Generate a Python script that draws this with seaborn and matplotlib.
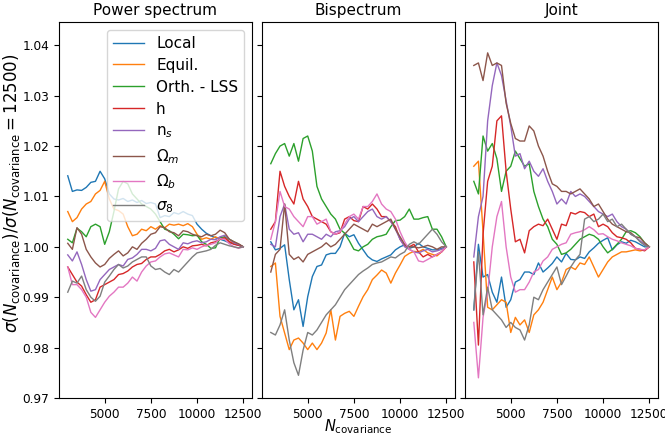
import numpy as np
import pandas as pd
import seaborn as sns
import matplotlib
matplotlib.use("Agg")
import matplotlib.pyplot as plt

# number of simulations used for the covariance
n_cov = [3000, 3250, 3500, 3750, 4000, 4250, 4500, 4750, 5000, 5250,
         5500, 5750, 6000, 6250, 6500, 6750, 7000, 7250, 7500, 7750,
         8000, 8250, 8500, 8750, 9000, 9250, 9500, 9750, 10000, 10250,
         10500, 10750, 11000, 11250, 11500, 11750, 12000, 12250, 12500]

labels = ["Local", "Equil.", "Orth. - LSS", "h", r"n$_s$",
          r"$\Omega_m$", r"$\Omega_b$", r"$\sigma_8$"]
titles = ["Power spectrum", "Bispectrum", "Joint"]

# sigma(N)/sigma(12500) - 1, in units of 1e-3
# --- power spectrum
local_pk = [14.1, 11.0, 11.3, 11.2, 11.8, 12.8, 13.0, 15.0, 13.5, 10.5, 9.5, 9.3, 9.6, 9.0, 9.3, 8.8,
            9.2, 8.6, 8.8, 8.5, 5.8, 6.2, 6.0, 6.8, 6.5, 7.0, 6.5, 6.2, 4.5, 3.5, 2.7, 2.2, 1.8, 1.5,
            1.2, 0.8, 0.6, 0.3, 0.0]
equil_pk = [7.0, 5.0, 5.8, 7.5, 8.5, 9.0, 10.5, 11.2, 13.0, 9.5, 7.5, 7.2, 6.5, 4.0, 2.2, 2.5,
            3.5, 3.2, 4.0, 3.5, 4.2, 3.8, 4.5, 4.3, 4.5, 4.2, 4.6, 4.0, 2.5, 1.5, 1.8, 1.5, 2.0, 1.5,
            1.8, 1.0, 0.8, 0.5, 0.0]
orth_pk = [1.5, 0.8, 3.7, 3.0, 2.0, 4.0, 4.5, 4.0, 0.5, 3.0, 7.0, 11.5, 13.0, 12.5, 10.5, 9.5,
           8.5, 8.0, 7.5, 6.5, 5.0, 3.5, 3.2, 2.5, 1.6, 2.5, 2.4, 2.2, 2.3, 1.0, 0.5, -0.3, -0.2, 1.8,
           2.0, 1.5, 1.0, 0.5, 0.0]
h_pk = [-4.0, -5.5, -7.0, -7.8, -9.5, -11.0, -10.5, -8.0, -7.5, -7.0, -6.5, -5.5, -5.3, -4.8, -4.0,
        -3.5, -3.3, -2.5, -2.0, -2.0, -1.5, -0.8, -0.5, -1.0, -0.6, 0.0, -0.3, 0.2, 0.3, 0.5, 0.2,
        0.8, 1.0, 1.5, 1.8, 1.0, 0.5, 0.3, 0.0]
ns_pk = [-1.6, -2.8, -1.0, -3.5, -6.5, -8.8, -8.5, -6.5, -5.5, -4.5, -4.0, -3.5, -3.8, -2.5, -2.2,
         -1.5, -0.5, -0.5, -0.8, -0.3, 1.2, 1.4, 0.5, 0.0, -0.5, 0.8, 0.6, 1.0, 1.2, 0.8, 1.0, 1.5,
         1.4, 2.0, 2.3, 1.5, 0.8, 0.5, 0.0]
om_pk = [0.7, -0.5, 3.8, 2.5, -0.5, -2.0, -3.2, -4.0, -3.5, -2.3, -1.5, -0.8, -1.8, -1.2, 0.0, -0.5,
         0.7, 1.5, 2.5, 2.8, 4.0, 3.8, 3.0, 2.8, 2.2, 3.2, 3.0, 2.5, 2.2, 2.0, 2.5, 2.2, 2.5, 3.3,
         2.8, 1.5, 1.0, 0.6, 0.0]
ob_pk = [-4.0, -7.5, -7.5, -8.5, -10.0, -13.0, -14.0, -12.5, -11.0, -9.8, -9.0, -8.0, -8.0, -7.2,
         -6.0, -6.8, -5.0, -3.8, -3.0, -2.8, -2.0, -1.4, -1.2, -1.6, -2.0, -0.5, -0.6, -0.2, -0.5,
         0.0, 0.3, 0.5, 0.8, 1.6, 1.5, 0.6, 0.0, -0.3, 0.0]
s8_pk = [-9.0, -6.8, -7.2, -5.8, -8.5, -10.0, -10.8, -9.8, -7.0, -5.8, -4.5, -3.5, -4.2, -3.8, -3.0,
         -2.5, -2.0, -2.0, -3.8, -4.5, -4.3, -5.0, -5.5, -4.5, -5.0, -4.0, -3.0, -2.0, -1.2, -1.0,
         -0.8, -0.5, 0.3, 0.8, 0.5, 0.2, 0.0, -0.2, 0.0]

# --- bispectrum
local_bk = [1.0, -0.6, -0.3, 0.4, -6.5, -12.5, -10.5, -15.8, -9.9, -5.9, -3.9, -3.6, -1.6, -1.3,
            -1.3, 0.0, 2.7, 2.0, 2.4, 0.7, -0.6, -1.9, -2.6, -2.9, -2.4, -2.0, -1.6, -0.6, 0.0, 0.4,
            -0.3, 0.0, 0.7, 0.0, -0.3, -0.6, -0.6, -0.3, 0.0]
equil_bk = [-3.9, -3.2, -13.8, -17.1, -20.4, -18.5, -18.1, -19.1, -20.4, -19.1, -20.4, -19.1, -17.1,
            -12.5, -18.5, -13.8, -13.2, -12.8, -13.8, -11.8, -9.9, -8.5, -6.5, -5.6, -4.6, -5.2, -7.2,
            -5.2, -3.6, -1.9, -1.3, -0.9, -1.0, -0.5, -1.2, -1.5, -1.8, -1.0, 0.0]
orth_bk = [16.5, 18.5, 20.0, 20.5, 18.0, 20.5, 17.0, 21.5, 22.0, 19.0, 12.0, 9.5, 8.0, 6.5, 5.5,
           3.5, 2.7, 1.2, -0.5, -0.8, 0.0, 0.5, 1.5, 2.0, 2.2, 2.5, 4.0, 5.2, 5.3, 6.0, 7.5, 5.5,
           5.5, 5.8, 6.0, 3.5, 3.5, 2.0, 0.0]
h_bk = [3.5, 5.0, 15.0, 12.0, 10.0, 8.5, 13.0, 9.5, 8.0, 6.0, 5.5, 5.0, 4.5, 3.0, 2.5, 2.8, 5.5,
        6.0, 5.2, 5.0, 8.0, 7.5, 8.5, 7.5, 6.0, 6.0, 5.0, 4.0, 1.5, 0.2, 0.0, 0.5, -1.0, -2.0, -1.5,
        -2.0, -1.5, -1.0, 0.0]
ns_bk = [0.5, 0.0, 6.0, 8.5, 3.5, 2.5, 2.8, 1.0, 2.5, 2.5, 2.0, 1.5, 2.5, 2.0, 3.0, 3.2, 4.0, 5.5,
         6.0, 5.0, 6.0, 7.0, 7.5, 6.0, 5.5, 6.0, 5.0, 3.5, 1.5, 0.0, -0.5, -1.0, -1.2, -0.8, -0.5,
         -1.0, -0.8, -0.5, 0.0]
om_bk = [-5.0, -1.5, -0.5, 8.5, -1.5, -2.5, -2.0, -3.0, -1.5, -1.0, -0.5, 0.0, 0.8, 0.0, 0.5, 1.5,
         2.5, 3.5, 4.5, 4.0, 3.5, 3.0, 4.5, 4.0, 4.5, 5.0, 5.5, 3.5, 2.0, 0.5, 0.0, 0.0, -0.2, 0.0,
         0.3, 0.0, -0.5, 0.0, 0.0]
ob_bk = [1.5, 5.0, 11.0, 8.0, 7.5, 6.0, 5.0, 4.0, 6.0, 6.0, 4.5, 5.0, 5.5, 3.0, 2.5, 3.0, 4.5, 6.0,
         6.5, 5.5, 8.0, 8.0, 9.0, 10.5, 8.5, 7.5, 7.0, 5.5, 3.0, 1.0, -0.5, -1.0, -2.8, -3.0, -2.5,
         -2.0, -1.5, -1.0, 0.0]
s8_bk = [-17.0, -17.5, -15.5, -12.5, -18.5, -23.0, -25.5, -20.5, -17.0, -17.5, -16.5, -15.0, -13.5,
         -12.5, -11.5, -10.0, -8.5, -7.5, -6.5, -5.5, -4.8, -4.2, -3.5, -3.2, -3.0, -2.5, -2.0, -2.2,
         -1.5, -1.0, 0.5, 1.0, 0.5, 1.5, 2.5, 3.5, 2.5, 1.0, 0.0]

# --- joint
local_j = [-12.5, 0.5, -6.0, -5.5, -9.0, -11.0, -6.0, -12.0, -10.5, -7.0, -6.5, -5.0, -5.0, -5.5,
           -3.2, -5.0, -4.2, -3.3, -2.0, -3.0, -1.3, -2.5, -2.6, -2.0, -2.3, -1.0, -0.2, 0.7, 1.3,
           1.8, -0.6, 0.4, 1.0, 0.7, 1.3, 1.0, 0.5, 0.0, 0.0]
equil_j = [16.0, 17.0, 3.0, -12.0, -12.5, -11.5, -10.5, -11.0, -17.0, -14.0, -15.5, -14.5, -17.0,
           -13.5, -12.5, -11.0, -8.5, -6.0, -8.5, -7.0, -4.5, -4.0, -4.5, -3.2, -3.5, -2.0, -4.0,
           -6.0, -4.5, -3.0, -2.0, -1.5, -1.0, -1.0, -0.8, -0.6, -0.8, -0.6, 0.0]
orth_j = [13.0, 10.5, 22.0, 19.0, 20.5, 17.5, 11.0, 15.0, 16.0, 19.0, 17.5, 16.0, 16.5, 11.0, 8.0,
          5.5, 4.0, 1.5, 0.5, -1.5, -1.2, -0.5, 0.5, 1.5, 2.0, 2.5, 2.2, 1.5, 0.0, -1.2, -0.5, 0.5,
          1.5, 3.0, 3.2, 2.8, 2.0, 0.8, 0.0]
h_j = [-3.0, -19.5, 2.5, 13.0, 16.0, 25.0, 26.0, 15.0, 7.5, 1.0, 1.5, -1.2, 3.2, 4.0, 4.5, 4.2, 5.5,
       3.5, 1.5, 4.5, 4.2, 6.8, 6.5, 7.0, 6.8, 6.0, 6.5, 4.0, 4.5, 4.0, 2.8, 2.0, 1.8, 1.5, 0.8,
       -0.3, -0.5, -0.8, 0.0]
ns_j = [-2.0, 6.0, 10.0, 25.0, 32.0, 36.5, 34.0, 29.0, 24.0, 18.0, 18.5, 15.5, 17.0, 15.0, 14.0,
        15.5, 13.0, 11.0, 8.5, 9.5, 8.5, 11.0, 10.0, 10.5, 10.0, 9.0, 8.0, 7.0, 6.5, 6.0, 6.5, 5.0,
        4.0, 3.5, 2.5, 2.0, 1.2, 0.5, 0.0]
om_j = [36.0, 36.5, 33.0, 38.5, 36.0, 36.5, 36.0, 28.5, 24.5, 21.5, 21.0, 21.0, 24.0, 23.0, 20.0,
        18.0, 15.0, 12.5, 12.0, 11.0, 11.0, 10.5, 11.0, 11.5, 10.5, 9.5, 8.0, 8.5, 7.0, 5.5, 4.5,
        4.0, 3.5, 3.0, 2.8, 2.0, 1.8, 0.8, 0.0]
ob_j = [-15.0, -26.0, -14.0, -9.0, 0.0, 6.0, 9.0, 0.0, -6.0, -9.0, -8.5, -8.5, -7.0, -5.0, -4.5,
        -2.8, -2.0, -0.5, 0.0, 0.5, 0.8, 2.5, 2.8, 3.0, 3.4, 4.0, 3.4, 2.5, 2.6, 2.0, 1.5, 1.2, 0.8,
        0.5, 0.2, -0.3, -0.5, -0.6, 0.0]
s8_j = [-12.5, -1.0, -13.5, -8.0, -12.5, -13.5, -14.5, -16.0, -15.0, -16.0, -16.5, -18.5, -15.5,
        -10.0, -10.5, -8.5, -7.0, -5.5, -4.0, -7.5, -5.8, -4.0, -2.6, -1.5, 5.5, 6.0, 5.0, 5.5, 6.5,
        5.0, 5.5, 4.0, 4.5, 3.5, 2.5, 2.0, 1.0, 0.3, 0.0]

panels = [
    [local_pk, equil_pk, orth_pk, h_pk, ns_pk, om_pk, ob_pk, s8_pk],
    [local_bk, equil_bk, orth_bk, h_bk, ns_bk, om_bk, ob_bk, s8_bk],
    [local_j, equil_j, orth_j, h_j, ns_j, om_j, ob_j, s8_j],
]

colors = sns.color_palette("tab10", 8)

fig, axes = plt.subplots(1, 3, figsize=(6.65, 4.34), dpi=100, sharey=True)
fig.subplots_adjust(left=0.0887, right=0.9895, bottom=0.083, top=0.949, wspace=0.052)

for ax, title, series in zip(axes, titles, panels):
    for vals, lab, col in zip(series, labels, colors):
        ratio = 1 + np.array(vals) / 1000.0
        sns.lineplot(x=n_cov, y=ratio, ax=ax, color=col, lw=1.0, label=lab, legend=False)
    ax.set_title(title, fontsize=11, pad=5)
    ax.set_xticks([5000, 7500, 10000, 12500])
    ax.tick_params(labelsize=8.7)

axes[0].set_ylim(0.97, 1.0446)
axes[0].set_yticks([0.97, 0.98, 0.99, 1.00, 1.01, 1.02, 1.03, 1.04])
axes[0].yaxis.set_major_formatter(matplotlib.ticker.FormatStrFormatter("%.2f"))
axes[0].set_ylabel(r"$\sigma(N_{\rm covariance})/\sigma(N_{\rm covariance}=12500)$", fontsize=12)
axes[0].yaxis.set_label_coords(-0.19, 0.545)
axes[1].set_xlabel(r"$N_{\rm covariance}$", fontsize=10.5, labelpad=-2.5)
axes[0].legend(loc="upper right", fontsize=11, labelspacing=0.45, handletextpad=0.8)

fig.savefig("out.png", dpi=100)
